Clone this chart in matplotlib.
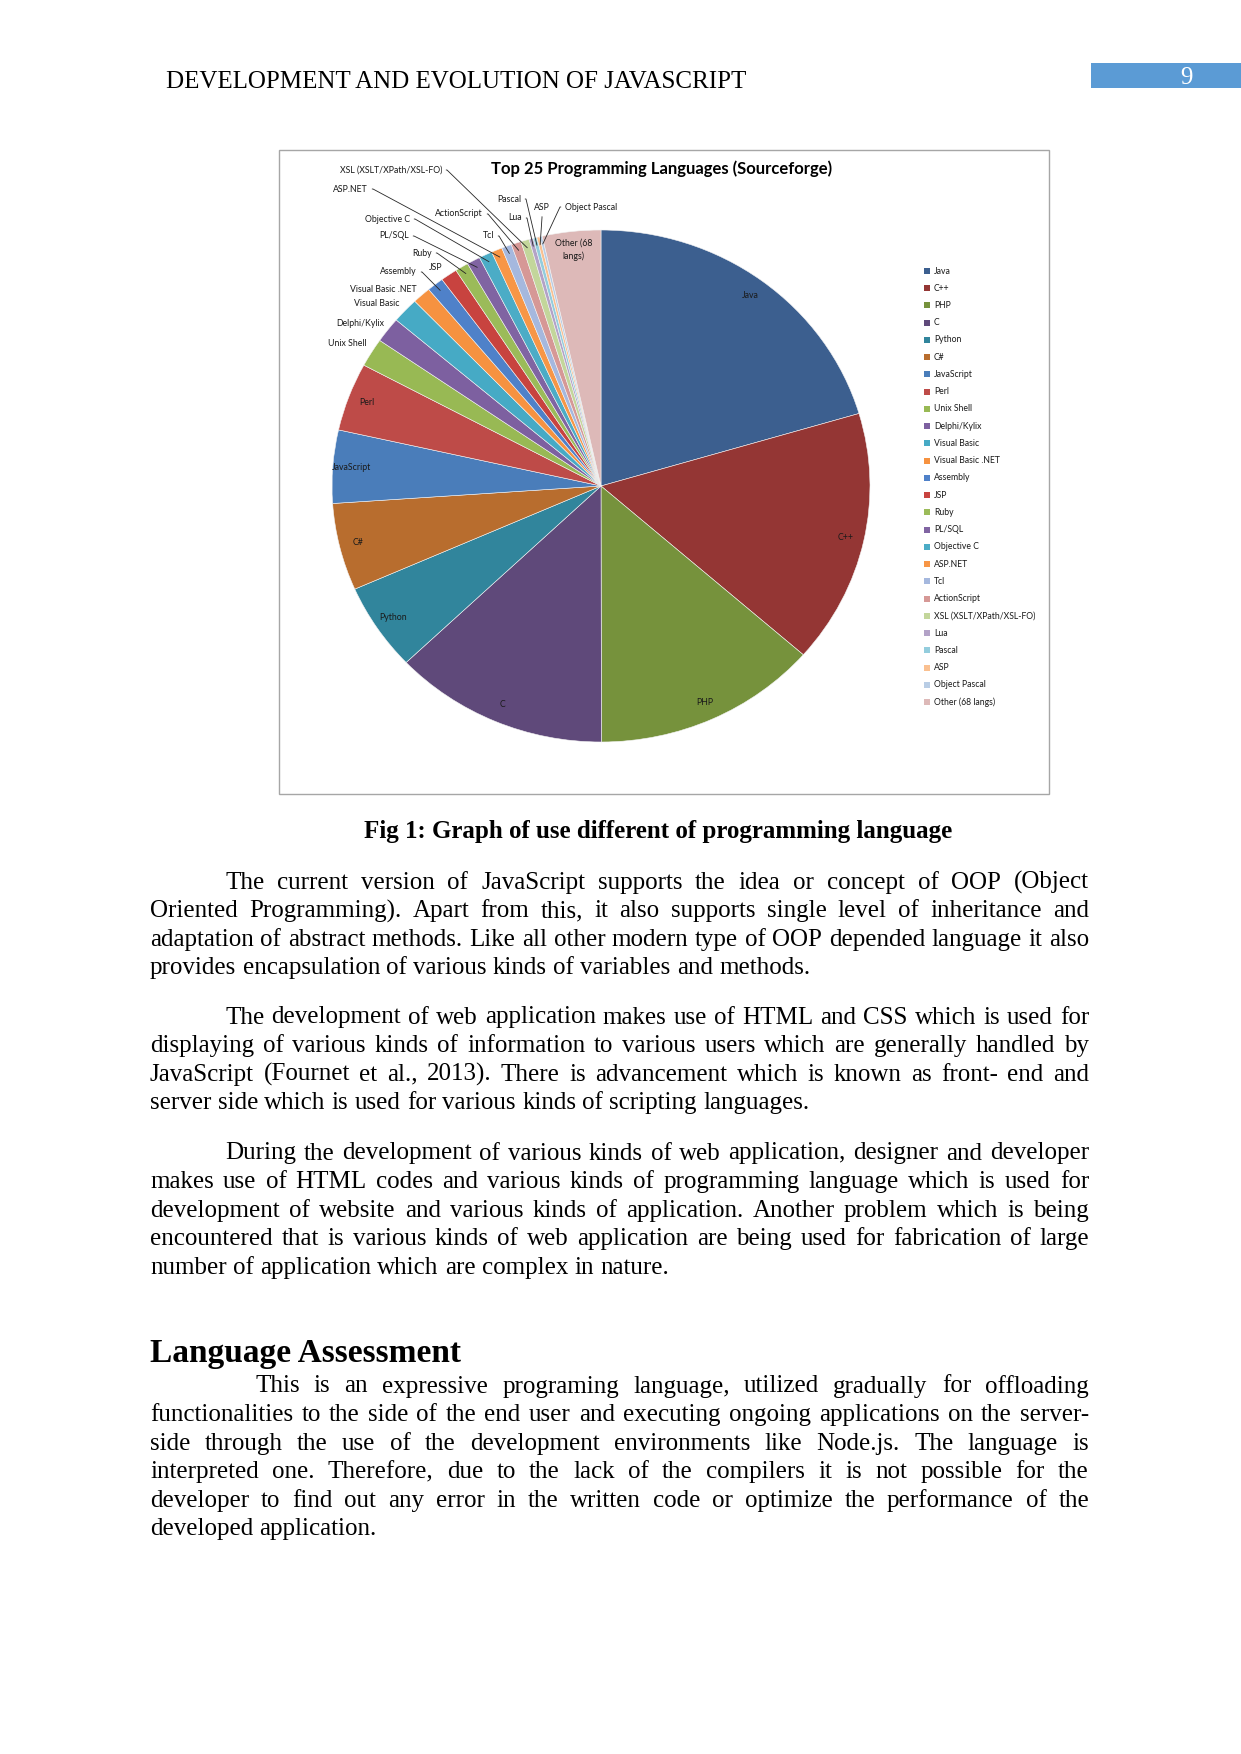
import matplotlib
matplotlib.use("Agg")
import numpy as np
import matplotlib.pyplot as plt
from matplotlib.patches import Rectangle

W, H = 1241, 1754
SERIF = "Liberation Serif"
SANS = "Lato"

# ---------------------------------------------------------------------------
# chart data (share of projects, %)
# ---------------------------------------------------------------------------
languages = ["Java", "C++", "PHP", "C", "Python", "C#", "JavaScript", "Perl",
             "Unix Shell", "Delphi/Kylix", "Visual Basic", "Visual Basic .NET",
             "Assembly", "JSP", "Ruby", "PL/SQL", "Objective C", "ASP.NET",
             "Tcl", "ActionScript", "XSL (XSLT/XPath/XSL-FO)", "Lua", "Pascal",
             "ASP", "Object Pascal", "Other (68 langs)"]
shares = [20.4, 16.0, 13.5, 12.9, 5.5, 5.5, 4.6, 4.3,
          1.8, 1.6, 1.6, 1.1,
          1.0, 1.0, 0.8, 0.8, 0.8, 0.65,
          0.6, 0.6, 0.5, 0.25, 0.22,
          0.18, 0.15, 3.5]
slice_colors = ["#3C5F8F", "#943634", "#76923C", "#5F497A", "#31859C", "#B86D2E",
                "#4A7DBA", "#BE4B48", "#98B954", "#7D60A0", "#46AAC5", "#F69240",
                "#4F81C9", "#C8433F", "#9BBB59", "#8064A2", "#4BACC6", "#F79646",
                "#A5B8DE", "#D69896", "#C3D69B", "#B3A2C7", "#93CDDD",
                "#FAC090", "#B9CDE5", "#DDB9B8"]

inside_labels = {"Java": "Java", "C++": "C++", "PHP": "PHP", "C": "C",
                 "Python": "Python", "C#": "C#", "JavaScript": "JavaScript",
                 "Perl": "Perl", "Other (68 langs)": "Other (68\nlangs)"}

# outside label placement: (x px, y px, ha, leader, armA angle)
outside_labels = {
    "XSL (XSLT/XPath/XSL-FO)": (442, 170, "right", True, 0),
    "ASP.NET": (368, 189, "right", True, 0),
    "Objective C": (410, 219, "right", True, 0),
    "PL/SQL": (409, 236, "right", True, 0),
    "Ruby": (432, 253, "right", True, 0),
    "Assembly": (417, 272, "right", True, 0),
    "JSP": (436, 268, "center", False, 0),
    "Visual Basic .NET": (417, 289, "right", False, 0),
    "Visual Basic": (400, 304, "right", False, 0),
    "Delphi/Kylix": (384, 323, "right", False, 0),
    "Unix Shell": (367, 344, "right", False, 0),
    "ActionScript": (483, 214, "right", True, 0),
    "Tcl": (494, 236, "right", True, 0),
    "Pascal": (521, 199, "right", True, 0),
    "Lua": (522, 218, "right", True, 0),
    "ASP": (542, 208, "center", True, -90),
    "Object Pascal": (565, 207, "left", True, 180),
}

# ---------------------------------------------------------------------------
# page text
# ---------------------------------------------------------------------------
header_text = "DEVELOPMENT AND EVOLUTION OF JAVASCRIPT"
page_number = "9"
caption = "Fig 1: Graph of use different of programming language"
heading = "Language Assessment"

para1 = ["The current version of JavaScript supports the idea or concept of OOP (Object",
         "Oriented Programming). Apart from this, it also supports single level of inheritance and",
         "adaptation of abstract methods. Like all other modern type of OOP depended language it also",
         "provides encapsulation of various kinds of variables and methods."]
para2 = ["The development of web application makes use of HTML and CSS which is used for",
         "displaying of various kinds of information to various users which are generally handled by",
         "JavaScript (Fournet et al., 2013). There is advancement which is known as front- end and",
         "server side which is used for various kinds of scripting languages."]
para3 = ["During the development of various kinds of web application, designer and developer",
         "makes use of HTML codes and various kinds of programming language which is used for",
         "development of website and various kinds of application. Another problem which is being",
         "encountered that is various kinds of web application are being used for fabrication of large",
         "number of application which are complex in nature."]
para4 = ["This is an expressive programing language, utilized gradually for offloading",
         "functionalities to the side of the end user and executing ongoing applications on the server-",
         "side through the use of the development environments like Node.js.  The language is",
         "interpreted one.  Therefore, due to the lack of the compilers it is not possible for the",
         "developer to find out any error in the written code or optimize the performance of the",
         "developed application."]


def fx(x):
    return x / W


def fy(y):
    return 1 - y / H


fig = plt.figure(figsize=(W / 100, H / 100), dpi=100)
renderer = fig.canvas.get_renderer()

# header
fig.text(fx(166), fy(79), header_text, fontsize=18, family=SERIF,
         va="center_baseline", ha="left")
fig.patches.append(Rectangle((fx(1091), fy(88)), 150 / W, 25 / H, transform=fig.transFigure,
                             facecolor="#5B9BD5", edgecolor="none"))
fig.text(fx(1186), fy(76), page_number, fontsize=18, family=SERIF, color="white",
         ha="center", va="center_baseline")

# chart frame
fig.patches.append(Rectangle((fx(279), fy(794)), 770 / W, 644 / H, transform=fig.transFigure,
                             facecolor="none", edgecolor="#A6A6A6", linewidth=1, zorder=0))

fig.text(fx(662), fy(169), "Top 25 Programming Languages (Sourceforge)", fontsize=12,
         weight="bold", family=SANS, ha="center", va="center")

# pie
ax = fig.add_axes([fx(332), fy(742), 538 / W, 512 / H])
ax.set_zorder(2)
wedges, _ = ax.pie(shares, colors=slice_colors, startangle=90, counterclock=False,
                   wedgeprops=dict(edgecolor="#F4F4F4", linewidth=0.4))
ax.set_aspect("auto")
ax.set_xlim(-1, 1)
ax.set_ylim(-1, 1)
ax.axis("off")
for w in wedges:
    w.set_clip_on(False)

for lang, w in zip(languages, wedges):
    mid = np.deg2rad((w.theta1 + w.theta2) / 2)
    cx, cy = np.cos(mid), np.sin(mid)
    if lang in inside_labels:
        r = 0.93
        ax.text(r * cx, r * cy, inside_labels[lang], ha="center", va="center",
                fontsize=6.3, family=SANS, color="#1A1A1A", linespacing=1.5)
    else:
        x, y, ha, leader, arm = outside_labels[lang]
        if leader:
            if ha == "right":
                rel = (1, 0.5)
            elif ha == "left":
                rel = (0, 0.5)
            else:
                rel = (0.5, 0)
            arrow = dict(arrowstyle="-", color="#262626", lw=0.6, shrinkA=1, shrinkB=0,
                         relpos=rel,
                         connectionstyle=f"arc,angleA={arm},angleB=0,armA=5,armB=0,rad=0")
        else:
            arrow = None
        ax.annotate(lang, xy=(0.97 * cx, 0.97 * cy), xycoords="data",
                    xytext=(fx(x), fy(y)), textcoords="figure fraction",
                    ha=ha, va="center", fontsize=6.3, family=SANS, color="#1A1A1A",
                    arrowprops=arrow, annotation_clip=False)

# legend
leg_x, leg_y0, leg_dy = 924, 271, 17.24
for i, (lang, col) in enumerate(zip(languages, slice_colors)):
    yy = leg_y0 + i * leg_dy
    fig.patches.append(Rectangle((fx(leg_x), fy(yy + 3)), 6 / W, 6 / H,
                                 transform=fig.transFigure, facecolor=col, edgecolor="none"))
    fig.text(fx(leg_x + 10), fy(yy), lang, fontsize=6.2, family=SANS, color="#1A1A1A",
             ha="left", va="center")

# caption
fig.text(fx(658), fy(829), caption, fontsize=18, weight="bold", family=SERIF,
         ha="center", va="center_baseline")

# justified body text
LEFT, RIGHT, STEP = 150, 1089, 28.6
BODY = 18


def draw_line(line, x_left, y, justify, size=BODY, weight="normal"):
    words = line.split()
    texts = [fig.text(0, fy(y), w, fontsize=size, family=SERIF, weight=weight,
                      ha="left", va="center_baseline") for w in words]
    widths = [t.get_window_extent(renderer).width for t in texts]
    if justify and len(words) > 1:
        gap = (RIGHT - x_left - sum(widths)) / (len(words) - 1)
    else:
        gap = size * 100 / 72 * 0.25
    x = x_left
    for t, wd in zip(texts, widths):
        t.set_x(fx(x))
        x += wd + gap


def draw_paragraph(lines, y0, indent):
    for i, line in enumerate(lines):
        x0 = indent if i == 0 else LEFT
        draw_line(line, x0, y0 + i * STEP, justify=(i < len(lines) - 1))


draw_paragraph(para1, 880, 225)
draw_paragraph(para2, 1015, 225)
draw_paragraph(para3, 1151, 225)
fig.text(fx(LEFT), fy(1350), heading, fontsize=24, weight="bold", family=SERIF,
         ha="left", va="center_baseline")
draw_paragraph(para4, 1384, 255)

fig.savefig("out.png", dpi=100)
